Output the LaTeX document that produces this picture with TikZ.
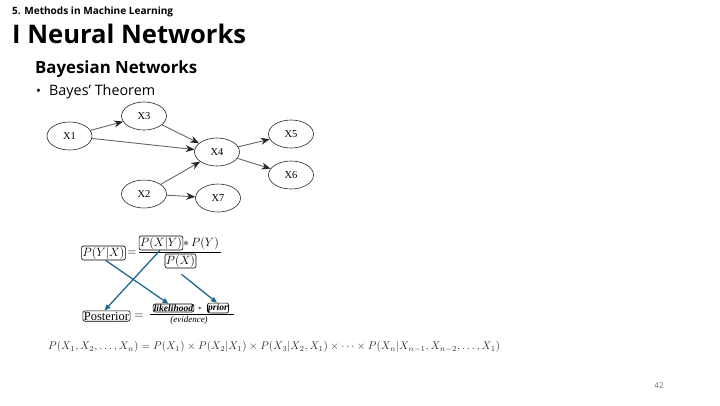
\documentclass[tikz,border=0pt]{standalone}
\usepackage{fontspec}
\setmainfont{Liberation Serif}
\newfontfamily\titlefont{Open Sans}
\usetikzlibrary{arrows.meta,shapes.geometric}
\definecolor{arrowblue}{HTML}{21698C}
\tikzset{
  bn/.style={draw=black!85, line width=0.6pt, ellipse, minimum width=45pt, minimum height=28pt, inner sep=0pt, font=\fontsize{10.5}{10}\selectfont},
  bnedge/.style={draw=black!60, line width=0.9pt, -{Stealth[length=9pt,width=7pt,color=black!85]}},
  fbox/.style={draw=black, line width=0.6pt, rounded corners=2pt, inner sep=1pt},
  bluearrow/.style={draw=arrowblue, line width=1.3pt, -{Triangle[length=6pt,width=5pt]}},
  txt/.style={inner sep=0pt, anchor=west}
}
\begin{document}
\begin{tikzpicture}[x=1pt,y=-1pt]
\useasboundingbox (0,0) rectangle (720,405);
% titles
\node[txt] (sec) at (12,12) {\resizebox{161pt}{!}{\titlefont\bfseries 5. Methods in Machine Learning}};
\node[txt] (title) at (12,34) {\resizebox{234pt}{!}{\titlefont\bfseries I Neural Networks}};
\node[txt] (sub) at (35,69) {\resizebox{162pt}{!}{\titlefont\bfseries Bayesian Networks}};
\node[inner sep=0pt] (dot) at (38.5,92) {\titlefont\fontsize{13}{13}\selectfont\textbullet};
\node[txt] (bul) at (49,92) {\resizebox{106pt}{!}{\titlefont Bayes’ Theorem}};
% network
\node[bn] (x1) at (69.5,136) {X1};
\node[bn] (x3) at (144,116) {X3};
\node[bn] (x4) at (217,152) {X4};
\node[bn] (x5) at (291,134) {X5};
\node[bn] (x6) at (291,175) {X6};
\node[bn] (x2) at (144,194) {X2};
\node[bn] (x7) at (218,198) {X7};
\draw[bnedge] (x1) -- (x3);
\draw[bnedge] (x1) -- (x4);
\draw[bnedge] (x3) -- (x4);
\draw[bnedge] (x2) -- (x4);
\draw[bnedge] (x2) -- (x7);
\draw[bnedge] (x4) -- (x5);
\draw[bnedge] (x4) -- (x6);
% Bayes formula
\node[fbox, font=\fontsize{13}{13}\selectfont] (pyx) at (103.5,253) {$P(Y|X)$};
\node[inner sep=0pt, font=\fontsize{13}{13}\selectfont] (eq1) at (132,253) {$=$};
\node[fbox, font=\fontsize{13}{13}\selectfont] (pxy) at (161,243) {$P(X|Y)$};
\node[txt, font=\fontsize{13}{13}\selectfont] (py) at (183,243) {$*\,P(Y)$};
\node[fbox, font=\fontsize{13}{13}\selectfont] (px) at (180.5,261) {$P(X)$};
\coordinate (bar1l) at (139,252);
\coordinate (bar1r) at (221,252);
\draw[line width=0.6pt] (bar1l) -- (bar1r);
\node[fbox, font=\fontsize{12.5}{13}\selectfont] (post) at (106.5,316) {Posterior};
\node[inner sep=0pt, font=\fontsize{13}{13}\selectfont] (eq2) at (139,316) {$=$};
\node[fbox, inner sep=0.6pt, font=\bfseries\itshape\fontsize{9.6}{9}\selectfont] (lik) at (173.5,308) {likelihood};
\node[inner sep=0pt, font=\fontsize{8}{8}\selectfont] (star) at (200,308.5) {$*$};
\node[fbox, inner sep=0.6pt, font=\bfseries\itshape\fontsize{9.6}{9}\selectfont] (prior) at (218,308) {prior};
\node[inner sep=0pt, font=\itshape\fontsize{9}{9}\selectfont] (evid) at (189,320.5) {(evidence)};
\coordinate (bar2l) at (150,314);
\coordinate (bar2r) at (234,314);
\draw[line width=0.5pt] (bar2l) -- (bar2r);
% blue arrows
\draw[bluearrow] ([xshift=2pt]pyx.south) -- ([xshift=-5pt]lik.north);
\draw[bluearrow] ([xshift=-1pt]pxy.south) -- ([xshift=-2pt]post.north);
\draw[bluearrow] ([yshift=-6pt,xshift=1pt]px.south) -- ([xshift=-1pt]prior.north);
% chain rule
\node[txt, text=black!80] (chain) at (48,347) {\resizebox{452pt}{!}{$P(X_1,X_2,\ldots,X_n)=P(X_1)\times P(X_2|X_1)\times P(X_3|X_2,X_1)\times\cdots\times P(X_n|X_{n-1},X_{n-2},\ldots,X_1)$}};
% page number
\node[inner sep=0pt, text=black!55, font=\titlefont\fontsize{8}{8}\selectfont] (pg) at (659,386) {42};
\end{tikzpicture}
\end{document}
